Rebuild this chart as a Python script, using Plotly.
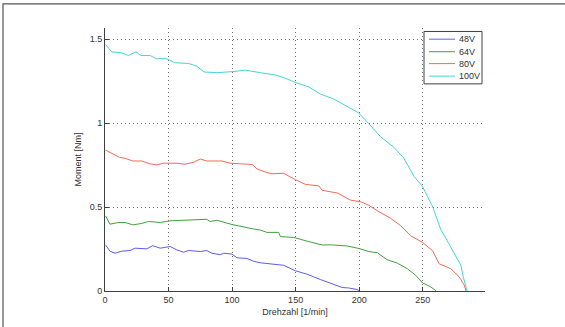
import plotly.graph_objects as go

# ---- data ----
x_48 = [0.5, 3.9, 7.9, 13.1, 19.7, 23.7, 32.8, 37.5, 43.4, 51.3, 56.5, 61.8, 65.7, 74.9, 80.1, 84.1,
        90.7, 93.3, 99.9, 103.8, 111.7, 117, 122.2, 140.6, 150, 159, 169.6, 177.4, 186.6, 191.8, 198.3, 200.4]
y_48 = [0.274, 0.237, 0.225, 0.237, 0.241, 0.255, 0.251, 0.270, 0.255, 0.265, 0.245, 0.231, 0.241, 0.235, 0.241, 0.225,
        0.216, 0.225, 0.220, 0.198, 0.194, 0.177, 0.168, 0.153, 0.120, 0.100, 0.068, 0.045, 0.021, 0.018, 0.009, 0.0]

x_64 = [0.5, 3.9, 10.5, 15.8, 21.8, 28.9, 34.1, 43.4, 51.3, 64.4, 80.1, 82.8, 88, 99.9, 111.7, 117, 122.2,
        127.4, 136.7, 138, 148.5, 159, 160.4, 170.8, 177.4, 190.6, 199.8, 207.6, 214.2, 222.1, 230, 237.8,
        244.4, 249.7, 256.2, 260.7]
y_64 = [0.447, 0.398, 0.408, 0.408, 0.394, 0.402, 0.414, 0.408, 0.418, 0.421, 0.427, 0.414, 0.421, 0.396, 0.375, 0.369, 0.363,
        0.349, 0.349, 0.324, 0.319, 0.300, 0.294, 0.274, 0.275, 0.268, 0.253, 0.235, 0.228, 0.186, 0.166, 0.133,
        0.094, 0.049, 0.025, 0.0]

x_80 = [0.5, 3.9, 11.3, 15.8, 21.8, 28.9, 35.5, 40.7, 46, 56.5, 63, 69.6, 74.9, 80.1, 92, 98.5, 106.5, 116,
        119.6, 126.2, 131.4, 140.6, 150, 157.7, 168.2, 170.8, 183, 193.2, 201.5, 207.6, 215.5, 224.8, 232.7,
        240.5, 249.7, 257.6, 262.9, 272.1, 278.7, 282.7, 284]
y_80 = [0.839, 0.825, 0.796, 0.790, 0.774, 0.774, 0.757, 0.751, 0.761, 0.761, 0.755, 0.766, 0.786, 0.774, 0.774, 0.761, 0.757, 0.753,
        0.727, 0.708, 0.698, 0.701, 0.662, 0.635, 0.626, 0.600, 0.583, 0.541, 0.531, 0.510, 0.472, 0.433, 0.388,
        0.329, 0.290, 0.241, 0.162, 0.133, 0.084, 0.035, 0.0]

x_100 = [0.5, 5.3, 13, 18.4, 24.4, 28.4, 35.5, 40.7, 47.3, 51.3, 55.2, 65.7, 72.2, 78, 88, 99.9, 110.3, 122.2,
         134, 140.6, 150, 160.4, 169.6, 180, 190.6, 199.6, 207.6, 216.9, 227.4, 235, 243.2, 249.7, 257.6,
         264.1, 270.7, 280, 281.9, 284.9]
y_100 = [1.467, 1.424, 1.418, 1.402, 1.424, 1.402, 1.402, 1.382, 1.386, 1.374, 1.359, 1.355, 1.339, 1.304, 1.300, 1.306, 1.315, 1.300,
         1.286, 1.271, 1.241, 1.215, 1.172, 1.143, 1.100, 1.061, 0.996, 0.918, 0.855, 0.792, 0.682, 0.624, 0.506,
         0.368, 0.280, 0.153, 0.084, 0.0]

series_names = ["48V", "64V", "80V", "100V"]
x_ticks = [0, 50, 100, 150, 200, 250]
y_ticks = [0, 0.5, 1, 1.5]
y_tick_labels = ["0", "0.5", "1", "1.5"]

colors = ["#5c5cf5", "#40a040", "#f56a57", "#48d4d4"]

W, H = 565, 327
L, R, T, B = 105, 80, 28, 33
PW, PH = W - L - R, H - T - B


def px(xp):
    return (xp - L) / PW


def py(yp):
    return (H - B - yp) / PH


fig = go.Figure()
for xs, ys, name, c in zip([x_48, x_64, x_80, x_100], [y_48, y_64, y_80, y_100], series_names, colors):
    fig.add_trace(go.Scatter(x=xs, y=ys, mode="lines", name=name,
                             line=dict(color=c, width=1), showlegend=False))

font = dict(family="Liberation Sans, Arial, sans-serif", size=9, color="#333333")

fig.update_layout(
    width=W, height=H,
    margin=dict(l=L, r=R, t=T, b=B, pad=0),
    paper_bgcolor="white", plot_bgcolor="white",
    font=font,
    xaxis=dict(range=[0, 299], tickvals=x_ticks, ticktext=[str(v) for v in x_ticks],
               showgrid=True, gridcolor="#707070", griddash="1px,3px", gridwidth=1,
               showline=True, linecolor="#404040", linewidth=1, mirror=False,
               ticks="inside", ticklen=4, tickcolor="#404040", zeroline=False,
               title=dict(text="Drehzahl [1/min]", font=font, standoff=4)),
    yaxis=dict(range=[0, 1.566], tickvals=y_ticks, ticktext=y_tick_labels,
               showgrid=True, gridcolor="#707070", griddash="1px,3px", gridwidth=1,
               showline=True, linecolor="#404040", linewidth=1, mirror=False,
               ticks="inside", ticklen=4, tickcolor="#404040", zeroline=False,
               title=dict(text="Moment [Nm]", font=font, standoff=6)),
)

shapes = []
# outer frame
shapes.append(dict(type="rect", xref="paper", yref="paper",
                   x0=px(3), x1=px(575), y0=py(3.5), y1=py(340),
                   line=dict(color="#555555", width=1.2), fillcolor="rgba(0,0,0,0)"))
# legend box
shapes.append(dict(type="rect", xref="paper", yref="paper",
                   x0=px(424), x1=px(482), y0=py(31.5), y1=py(84.5),
                   line=dict(color="#404040", width=1), fillcolor="white", layer="above"))
rows = [39.3, 52, 64, 76.7]
annotations = []
for r, name, c in zip(rows, series_names, colors):
    shapes.append(dict(type="line", xref="paper", yref="paper",
                       x0=px(429), x1=px(455), y0=py(r), y1=py(r),
                       line=dict(color=c, width=1), layer="above"))
    annotations.append(dict(xref="paper", yref="paper", x=px(457), y=py(r),
                            xanchor="left", yanchor="middle", text=name,
                            showarrow=False, font=font))
fig.update_layout(shapes=shapes, annotations=annotations)

fig.write_html("out.html", config={"displayModeBar": False},
               post_script="document.body.style.margin='0px';document.body.style.overflow='hidden';")
